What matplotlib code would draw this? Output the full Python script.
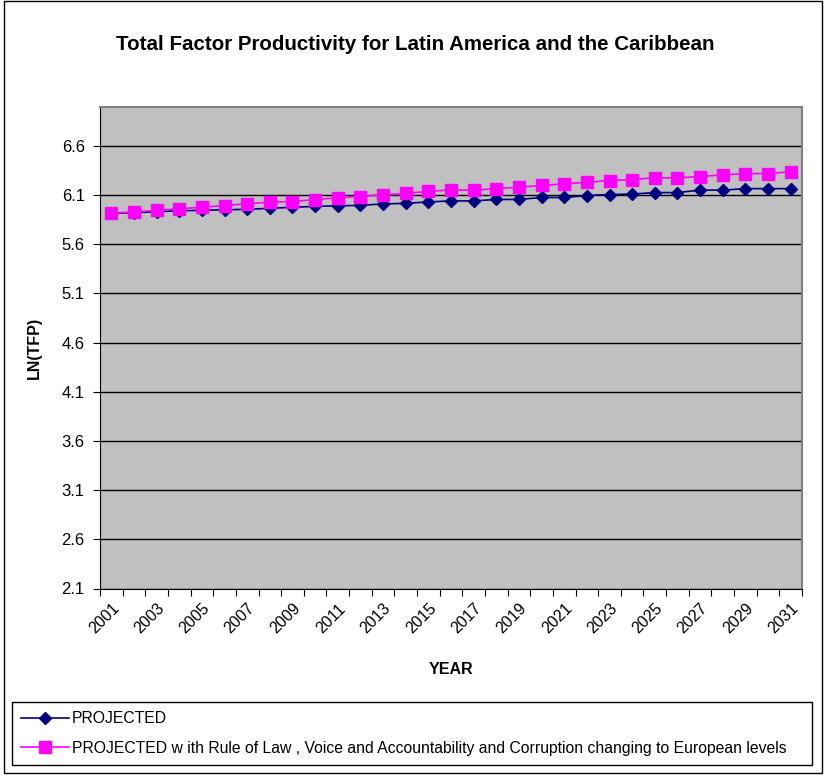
import numpy as np
import matplotlib.pyplot as plt
from matplotlib.patches import Rectangle

plt.rcParams['font.family'] = ['Liberation Sans', 'DejaVu Sans']

# Data
years = list(range(2001, 2032))
projected = [5.915, 5.920, 5.930, 5.940, 5.945, 5.950, 5.955, 5.965, 5.975, 5.985,
             5.990, 5.995, 6.010, 6.015, 6.030, 6.040, 6.040, 6.055, 6.055, 6.075,
             6.075, 6.095, 6.105, 6.110, 6.125, 6.125, 6.150, 6.150, 6.165, 6.165,
             6.165]
projected_eu = [5.915, 5.929, 5.943, 5.960, 5.976, 5.993, 6.011, 6.027, 6.034, 6.054,
                6.072, 6.085, 6.102, 6.118, 6.136, 6.153, 6.148, 6.166, 6.179, 6.197,
                6.214, 6.230, 6.247, 6.257, 6.275, 6.275, 6.288, 6.305, 6.318, 6.318,
                6.336]
y_ticks = [2.1, 2.6, 3.1, 3.6, 4.1, 4.6, 5.1, 5.6, 6.1, 6.6]

labels = ['PROJECTED',
          'PROJECTED w ith Rule of Law , Voice and Accountability and Corruption changing to European levels']

fig = plt.figure(figsize=(8.24, 7.77), dpi=100)
ax = fig.add_axes([100 / 824, 1 - 588.5 / 777, 702 / 824, (588.5 - 106.5) / 777])
ax.set_facecolor('#C0C0C0')

x = np.arange(len(years))
ax.plot(x, projected, color='#000080', marker='D', markersize=6.5, linewidth=1.2,
        label=labels[0], zorder=3)
ax.plot(x, projected_eu, color='#FF00FF', marker='s', markersize=8.5, linewidth=1.2,
        label=labels[1], zorder=4)

ax.set_xlim(-0.5, len(years) - 0.5)
ax.set_ylim(2.1, 7.0)
ax.set_yticks(y_ticks)
ax.set_yticklabels([f'{v:.1f}' for v in y_ticks], fontsize=12)
ax.yaxis.grid(True, color='black', linewidth=1)
ax.set_axisbelow(True)

# category ticks at boundaries, labels on every other year
ax.set_xticks(np.arange(-0.5, len(years), 1.0))
ax.set_xticklabels([])
ax.set_xticks(x[::2], minor=True)
ax.set_xticklabels([str(y) for y in years[::2]], minor=True, rotation=45,
                   ha='right', va='top', rotation_mode='anchor', fontsize=11.5)
ax.tick_params(axis='x', which='minor', length=0, pad=9)
ax.tick_params(axis='x', which='major', length=5, direction='out', color='black')
ax.tick_params(axis='y', length=5, direction='out', pad=6)

for side in ['top', 'right']:
    ax.spines[side].set_color('#808080')
    ax.spines[side].set_linewidth(1.5)
for side in ['left', 'bottom']:
    ax.spines[side].set_color('black')

ax.set_xlabel('YEAR', fontsize=11.5, fontweight='bold', labelpad=18)
ax.set_ylabel('LN(TFP)', fontsize=11.5, fontweight='bold', labelpad=14)
fig.text(415 / 824, 1 - 44 / 777, 'Total Factor Productivity for Latin America and the Caribbean',
         ha='center', va='center', fontsize=14.8, fontweight='bold')

leg = fig.legend(loc='upper left', bbox_to_anchor=(12 / 824, 1 - 702 / 777, 800 / 824, 0.0),
                 mode='expand', borderaxespad=0, fontsize=11.3, frameon=True, fancybox=False,
                 handlelength=3.0, handletextpad=0.2, labelspacing=0.9,
                 borderpad=0.6, edgecolor='black', framealpha=1)
leg.get_frame().set_linewidth(1)

fig.patches.append(Rectangle((4 / 824, 4 / 777), 818 / 824, 772 / 777,
                             transform=fig.transFigure, fill=False,
                             edgecolor='black', linewidth=1))

fig.savefig('out.png', dpi=100)
